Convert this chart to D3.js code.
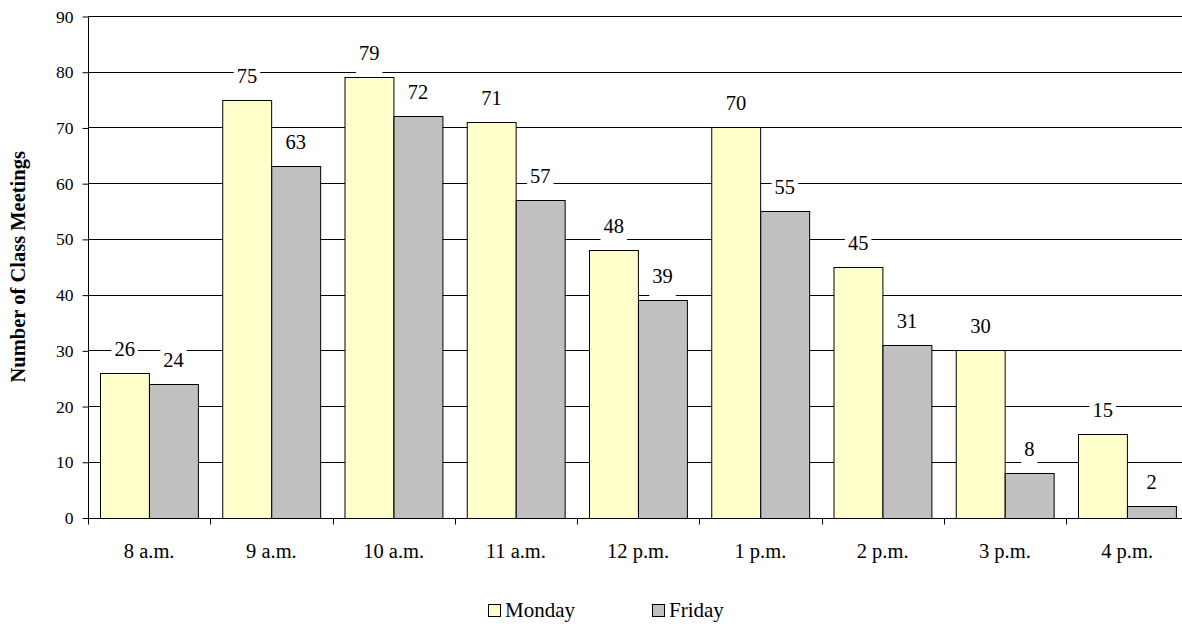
<!DOCTYPE html>
<html><head><meta charset="utf-8">
<script src="https://cdn.jsdelivr.net/npm/d3@7"></script>
<style>html,body{margin:0;padding:0;background:#fff;}svg{display:block;}</style>
</head><body>
<script>
const categories = ["8 a.m.","9 a.m.","10 a.m.","11 a.m.","12 p.m.","1 p.m.","2 p.m.","3 p.m.","4 p.m."];
const seriesNames = ["Monday","Friday"];
const monday = [26,75,79,71,48,70,45,30,15];
const friday = [24,63,72,57,39,55,31,8,2];
const yTicks = [0,10,20,30,40,50,60,70,80,90];
const colors = ["#FFFFCC","#C0C0C0"];

const W = 1182, H = 627;
const FONT = "Liberation Serif";
const svg = d3.select("body").append("svg").attr("width", W).attr("height", H)
  .attr("font-family", FONT);

const x0 = d3.scaleBand().domain(categories).range([88, 88 + 9 * 122.25]).paddingInner(0).paddingOuter(0);
const x1 = d3.scaleBand().domain(seriesNames).range([0, x0.bandwidth()]).paddingOuter(0.25).paddingInner(0);
const y = d3.scaleLinear().domain([0, 90]).range([517.5, 16]);

// gridlines
svg.append("g").selectAll("line").data(yTicks.slice(1)).join("line")
  .attr("x1", 88).attr("x2", W)
  .attr("y1", d => Math.round(y(d)) + 0.5).attr("y2", d => Math.round(y(d)) + 0.5)
  .attr("stroke", "#000").attr("stroke-width", 1);

// y axis
const yAxis = d3.axisLeft(y).tickValues(yTicks).tickSize(6).tickPadding(9);
const gy = svg.append("g").attr("transform", "translate(88.5,0.5)").call(yAxis);
gy.attr("font-family", FONT).attr("font-size", 17.5);
gy.select(".domain").attr("d", `M0,${y(90)}V${y(0)}`).attr("stroke", "#000");
gy.selectAll(".tick line").attr("stroke", "#000");
gy.selectAll("text").attr("fill", "#000");

const data = categories.map((c, i) => ({cat: c, vals: [monday[i], friday[i]]}));

// bars
const groups = svg.append("g").selectAll("g").data(data).join("g")
  .attr("transform", d => `translate(${x0(d.cat)},0)`);
groups.selectAll("rect").data(d => d.vals.map((v, j) => ({v, s: seriesNames[j], j}))).join("rect")
  .attr("x", d => Math.round(x1(d.s)) + 0.5)
  .attr("width", x1.bandwidth())
  .attr("y", d => Math.round(y(d.v)) + 0.5)
  .attr("height", d => Math.round(y(0)) - Math.round(y(d.v)))
  .attr("fill", d => colors[d.j])
  .attr("stroke", "#000").attr("stroke-width", 1);

// x axis
const gx = svg.append("g").attr("transform", `translate(0,${Math.round(y(0)) + 0.5})`);
gx.append("line").attr("x1", 88).attr("x2", W).attr("stroke", "#000");
gx.selectAll("line.tk").data(categories.concat(["end"])).join("line").attr("class", "tk")
  .attr("x1", (d, i) => Math.round(88 + i * x0.step()) + 0.5)
  .attr("x2", (d, i) => Math.round(88 + i * x0.step()) + 0.5)
  .attr("y1", 0).attr("y2", 6).attr("stroke", "#000");
gx.selectAll("text").data(categories).join("text")
  .attr("x", d => x0(d) + x0.bandwidth() / 2)
  .attr("y", 39.5)
  .attr("text-anchor", "middle")
  .attr("font-size", 20.5).attr("fill", "#000")
  .text(d => d);

// data labels
const labels = svg.append("g");
data.forEach(d => {
  d.vals.forEach((v, j) => {
    const cx = x0(d.cat) + x1(seriesNames[j]) + x1.bandwidth() / 2;
    const cy = y(v) - 24;
    const g = labels.append("g");
    const t = g.append("text").attr("x", cx).attr("y", cy + 7)
      .attr("text-anchor", "middle")
      .attr("font-size", 20.5).attr("fill", "#000").text(v);
    const bb = t.node().getBBox();
    g.insert("rect", "text").attr("x", bb.x - 3).attr("width", bb.width + 6)
      .attr("y", cy - 11).attr("height", 31).attr("fill", "#fff");
  });
});

// y title
svg.append("text")
  .attr("transform", `translate(25,${(y(0) + y(90)) / 2}) rotate(-90)`)
  .attr("text-anchor", "middle")
  .attr("font-size", 20.5).attr("font-weight", "bold").attr("fill", "#000")
  .text("Number of Class Meetings");

// legend
const legendX = [488, 652];
const lg = svg.append("g");
seriesNames.forEach((s, j) => {
  lg.append("rect").attr("x", legendX[j] + 0.5).attr("y", 604.5).attr("width", 12).attr("height", 12)
    .attr("fill", colors[j]).attr("stroke", "#000");
  lg.append("text").attr("x", legendX[j] + 17).attr("y", 617)
    .attr("font-size", 21).attr("fill", "#000").text(s);
});
</script>
</body></html>
